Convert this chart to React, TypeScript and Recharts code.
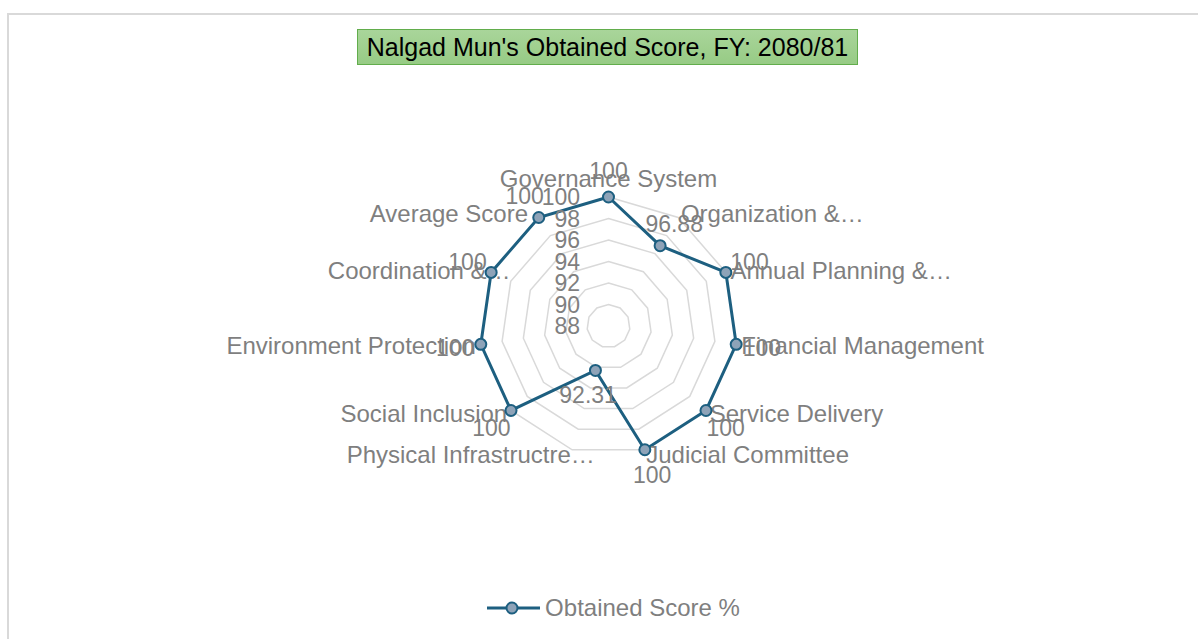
import React from 'react';
import { RadarChart, Radar, PolarGrid, PolarAngleAxis, PolarRadiusAxis, Legend } from 'recharts';

const categories = [
  'Governance System',
  'Organization &…',
  'Annual Planning &…',
  'Financial Management',
  'Service Delivery',
  'Judicial Committee',
  'Physical Infrastructre…',
  'Social Inclusion',
  'Environment Protection',
  'Coordination &…',
  'Average Score',
];
const scores = [100, 96.88, 100, 100, 100, 100, 92.31, 100, 100, 100, 100];
const radiusTicks = [88, 90, 92, 94, 96, 98, 100];
const seriesName = 'Obtained Score %';
const chartTitle = "Nalgad Mun's Obtained Score, FY: 2080/81";

const data = categories.map((c, i) => ({ category: c, score: scores[i] }));

const W = 1198;
const H = 639;
const CX = 608.5;
const CY = 326;
const R = 129;
const LABEL_R = 134;
const FONT = '"Liberation Sans", Arial, Helvetica, sans-serif';
const GRAY = '#7f7f7f';
const LINE = '#1d5f80';
const DOT_FILL = '#8ea3b8';

const AngleTick = (props: any) => {
  const angle = props.payload.coordinate;
  const value = String(props.payload.value);
  const rad = (-angle * Math.PI) / 180;
  const cos = Math.cos(rad);
  const sin = Math.sin(rad);
  const x = CX + cos * LABEL_R;
  const y = CY + sin * LABEL_R;
  let anchor: 'start' | 'middle' | 'end' = 'middle';
  let dx = 0;
  let dy = 0;
  if (Math.abs(cos) < 0.05) {
    dy = sin < 0 ? -14 : 14;
  } else if (cos > 0) {
    anchor = 'start';
  } else {
    anchor = 'end';
    if (value.endsWith('…')) dx = 24;
    else if (sin < -0.5) dx = -8;
  }
  return (
    <text x={x + dx} y={y + dy} textAnchor={anchor} dominantBaseline="central" fontSize={24} fontFamily={FONT} fill={GRAY}>
      {value}
    </text>
  );
};

const RadiusTick = (props: any) => (
  <text x={props.x - 28.5} y={props.y} textAnchor="end" dominantBaseline="central" fontSize={23} fontFamily={FONT} fill={GRAY}>
    {props.payload.value}
  </text>
);

const DotWithLabel = (props: any) => {
  const { cx, cy, index } = props;
  const dxp = cx - CX;
  const dyp = cy - CY;
  const r = Math.sqrt(dxp * dxp + dyp * dyp) || 1;
  const lx = CX + (dxp / r) * (r + 26);
  const ly = CY + (dyp / r) * (r + 26);
  return (
    <g key={`dot-${index}`}>
      <circle cx={cx} cy={cy} r={5.5} fill={DOT_FILL} stroke={LINE} strokeWidth={2} />
      <text x={lx} y={ly} textAnchor="middle" dominantBaseline="central" fontSize={23} fontFamily={FONT} fill={GRAY}>
        {scores[index]}
      </text>
    </g>
  );
};

const renderLegend = () => (
  <div style={{ display: 'flex', justifyContent: 'center', alignItems: 'center', height: 34, paddingLeft: 28 }}>
    <svg width={56} height={16} style={{ display: 'block' }}>
      <line x1={1} y1={8} x2={54} y2={8} stroke={LINE} strokeWidth={3} />
      <circle cx={26} cy={8} r={5.5} fill={DOT_FILL} stroke={LINE} strokeWidth={2} />
    </svg>
    <span style={{ fontSize: 24, fontFamily: FONT, color: GRAY, marginLeft: 3, lineHeight: '34px' }}>{seriesName}</span>
  </div>
);

export default function App() {
  return (
    <div style={{ position: 'fixed', left: 0, top: 0, width: W, height: H, overflow: 'hidden', background: '#fff' }}>
      <div
        style={{
          position: 'absolute',
          left: 7,
          top: 13,
          width: 1300,
          height: 800,
          border: '2px solid #d9d9d9',
          boxSizing: 'border-box',
        }}
      />
      <div style={{ position: 'absolute', left: 0, top: 0 }}>
        <RadarChart
          width={W}
          height={H}
          data={data}
          cx={CX}
          cy={CY}
          outerRadius={R}
          startAngle={90}
          endAngle={-270}
          margin={{ top: 0, right: 0, bottom: 0, left: 0 }}
        >
          <PolarGrid gridType="polygon" radialLines={false} stroke="#d9d9d9" strokeWidth={1.5} />
          <PolarAngleAxis dataKey="category" tick={AngleTick} axisLine={false} tickLine={false} />
          <PolarRadiusAxis
            angle={90}
            type="number"
            domain={[88, 100]}
            ticks={radiusTicks}
            tickCount={7}
            axisLine={false}
            tickLine={false}
            tick={RadiusTick}
          />
          <Radar
            name={seriesName}
            dataKey="score"
            stroke={LINE}
            strokeWidth={3}
            fill="none"
            fillOpacity={0}
            dot={DotWithLabel}
            isAnimationActive={false}
          />
          <Legend
            content={renderLegend}
            wrapperStyle={{ position: 'absolute', left: 0, top: 591, width: W, height: 34 }}
          />
        </RadarChart>
      </div>
      <div
        style={{
          position: 'absolute',
          left: 357,
          top: 29,
          width: 501,
          height: 36,
          boxSizing: 'border-box',
          background: 'linear-gradient(#a9d59a, #97cb85)',
          border: '1.5px solid #62ad4c',
          display: 'flex',
          alignItems: 'center',
          justifyContent: 'center',
          fontFamily: FONT,
          fontSize: 25,
          color: '#000',
          whiteSpace: 'nowrap',
        }}
      >
        {chartTitle}
      </div>
    </div>
  );
}
